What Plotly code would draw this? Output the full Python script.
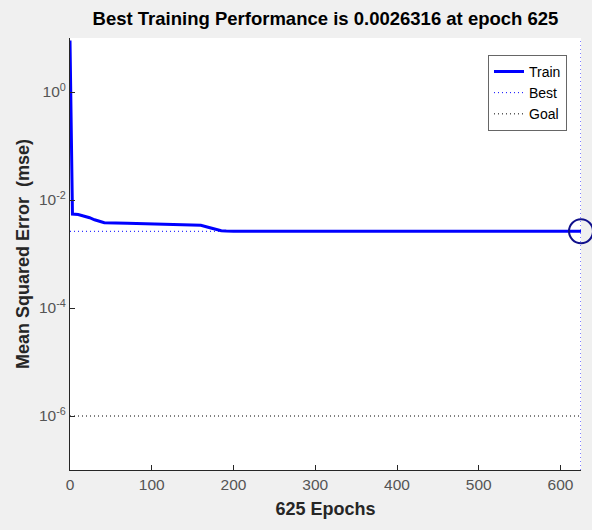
import plotly.graph_objects as go

# Training record (epoch, mean squared error)
epochs = [0, 1, 3, 10, 17, 24, 30, 36, 42, 70, 115, 140, 160, 170, 178, 185, 191, 200, 625]
train_mse = [9.0, 0.3, 0.0055, 0.0054, 0.0051, 0.0047, 0.0043, 0.0040, 0.0038, 0.0037, 0.0036,
             0.0035, 0.0034, 0.0031, 0.0029, 0.0027, 0.00266, 0.00264, 0.0026316]

best_epoch = 625
best_perf = 0.0026316
goal = 1e-6
x_max = 625
y_min, y_max = 1e-7, 10

x_ticks = [0, 100, 200, 300, 400, 500, 600]
y_ticks = [1, 1e-2, 1e-4, 1e-6]
y_tick_text = ["10<sup>0</sup>", "10<sup>-2</sup>", "10<sup>-4</sup>", "10<sup>-6</sup>"]

font_family = "Liberation Sans, Arial, Helvetica, sans-serif"
axis_color = "#262626"
dotted = "1px,3px"

fig = go.Figure()

fig.add_trace(go.Scatter(
    x=epochs, y=train_mse, mode="lines", name="Train",
    line=dict(color="#0000ff", width=3),
))

# Best: vertical line at the best epoch and horizontal line at the best value
fig.add_trace(go.Scatter(
    x=[best_epoch, best_epoch, None, 0, x_max],
    y=[y_min, y_max, None, best_perf, best_perf],
    mode="lines", name="Best",
    line=dict(color="#0000ff", width=1, dash=dotted),
))

fig.add_trace(go.Scatter(
    x=[0, x_max], y=[goal, goal], mode="lines", name="Goal",
    line=dict(color="#000000", width=1, dash=dotted),
))

fig.add_trace(go.Scatter(
    x=[best_epoch], y=[best_perf], mode="markers", showlegend=False,
    marker=dict(symbol="circle-open", size=24, color="#10108c", line=dict(width=2, color="#10108c")),
    cliponaxis=False,
))

fig.update_layout(
    width=592, height=530,
    margin=dict(l=70, r=11, t=38, b=60),
    paper_bgcolor="#f0f0f0",
    plot_bgcolor="#ffffff",
    font=dict(family=font_family, color=axis_color),
    title=dict(
        text="<b>Best Training Performance is 0.0026316 at epoch 625</b>",
        x=(70 + 581) / 2 / 592, xanchor="center", y=1 - 19 / 530, yanchor="middle",
        font=dict(size=18.5, color="#000000"),
    ),
    legend=dict(
        x=0.9726, xanchor="right", y=0.961, yanchor="top",
        bgcolor="#ffffff", bordercolor="#666666", borderwidth=1,
        font=dict(size=14, color="#000000"),
        tracegroupgap=0,
    ),
    showlegend=True,
)

fig.update_xaxes(
    range=[0, x_max], tickvals=x_ticks,
    showgrid=False, zeroline=False,
    showline=True, linecolor=axis_color, linewidth=1, mirror=False,
    ticks="inside", ticklen=5, tickcolor=axis_color,
    tickfont=dict(size=15.5, color="#555555"),
    title=dict(text="<b>625 Epochs</b>", font=dict(size=18, color="#262626"), standoff=10),
)

fig.update_yaxes(
    type="log", range=[-7, 1], tickvals=y_ticks, ticktext=y_tick_text,
    showgrid=False, zeroline=False,
    showline=True, linecolor=axis_color, linewidth=1, mirror=False,
    ticks="inside", ticklen=5, tickcolor=axis_color,
    tickfont=dict(size=15.5, color="#555555"),
    title=dict(text="<b>Mean Squared Error  (mse)</b>", font=dict(size=18, color="#262626"), standoff=4),
)

fig.write_html("out.html")
